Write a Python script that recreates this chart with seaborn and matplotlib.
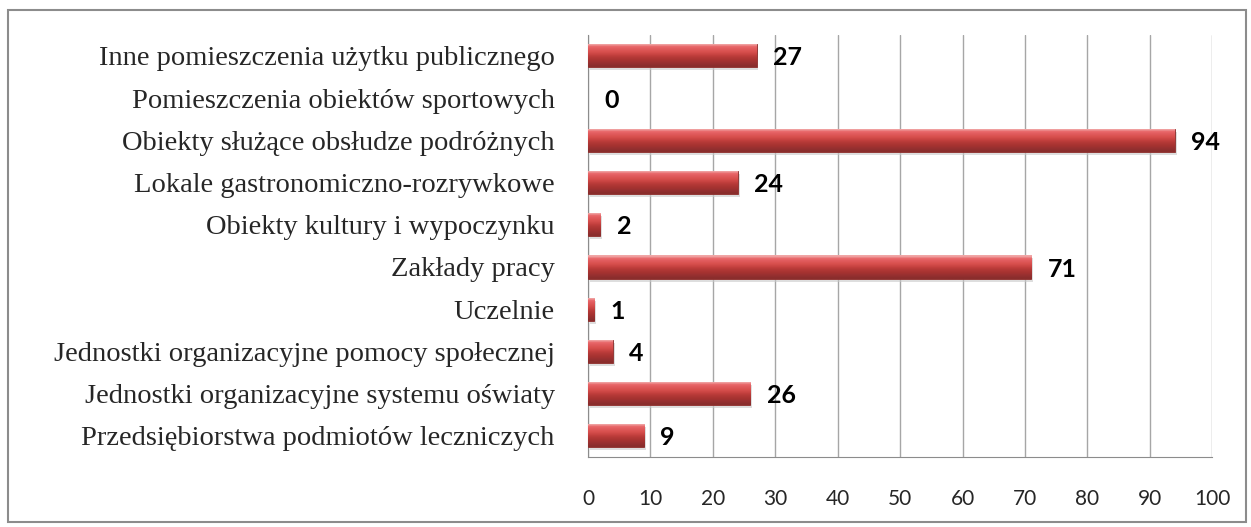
import matplotlib.pyplot as plt
import matplotlib.patches as mpatches
import numpy as np
import pandas as pd
import seaborn as sns

categories = [
    "Inne pomieszczenia użytku publicznego",
    "Pomieszczenia obiektów sportowych",
    "Obiekty służące obsłudze podróżnych",
    "Lokale gastronomiczno-rozrywkowe",
    "Obiekty kultury i wypoczynku",
    "Zakłady pracy",
    "Uczelnie",
    "Jednostki organizacyjne pomocy społecznej",
    "Jednostki organizacyjne systemu oświaty",
    "Przedsiębiorstwa podmiotów leczniczych",
]
values = [27, 0, 94, 24, 2, 71, 1, 4, 26, 9]
x_ticks = [0, 10, 20, 30, 40, 50, 60, 70, 80, 90, 100]

df = pd.DataFrame({"kategoria": categories, "liczba": values})

sns.set_style("white")

fig = plt.figure(figsize=(12.51, 5.27), dpi=100)
ax = fig.add_axes([0.470, 0.133, 0.499, 0.801])

sns.barplot(data=df, y="kategoria", x="liczba", orient="h", color="#c0504d",
            width=0.55, ax=ax, zorder=3)

# cylinder-like shading, listed from visual top to bottom
stripes = ["#f0a6a6", "#e8686a", "#e05a5c", "#d9514f", "#cc4644",
           "#bb3c3a", "#ae3634", "#a33230", "#963030", "#8a2d2c"]
img = np.array([[list(int(c[i:i + 2], 16) / 255 for i in (1, 3, 5))] for c in stripes])
img = img[::-1]  # inverted y axis: row 0 lands at the visual bottom

for p in ax.patches:
    x0, y0 = p.get_x(), p.get_y()
    w, h = p.get_width(), p.get_height()
    if w <= 0:
        p.set_visible(False)
        continue
    ax.add_patch(mpatches.Rectangle((x0 + 0.3, y0 + 0.07), w, h, color="#c8c8c8",
                                    alpha=0.6, zorder=2, lw=0))
    im = ax.imshow(img, extent=(x0, x0 + w, y0, y0 + h), aspect="auto",
                   zorder=4, interpolation="bilinear")
    im.set_clip_path(p)
    p.set_edgecolor("#8b2a28")
    p.set_linewidth(0.6)

for i, v in enumerate(values):
    ax.text(v + 2.6, i + 0.05, str(v), va="center", ha="left", fontsize=18,
            fontweight="bold", family="Lato", color="black", zorder=5)

ax.set_xlim(0, 100)
ax.set_ylim(9.5, -0.5)
ax.set_xticks(x_ticks)
ax.set_xticklabels([str(t) for t in x_ticks], family="Lato", fontsize=15)
ax.set_yticks(range(len(categories)))
ax.set_yticklabels(categories, family="Liberation Serif", fontsize=20.5)
ax.set_xlabel("")
ax.set_ylabel("")

ax.grid(axis="x", color="#a6a6a6", lw=1, zorder=0)
ax.set_axisbelow(True)
for s in ["top", "right"]:
    ax.spines[s].set_visible(False)
ax.spines["left"].set_color("#8c8c8c")
ax.spines["bottom"].set_color("#8c8c8c")

ax.set_yticks(np.arange(-0.5, 10, 1), minor=True)
ax.tick_params(axis="y", which="major", length=0, pad=24)
ax.tick_params(axis="y", which="minor", length=8, color="#8c8c8c", direction="out")
ax.tick_params(axis="x", which="major", length=10, color="#8c8c8c", direction="inout", pad=18)

fig.patches.append(mpatches.Rectangle((8 / 1251, 5 / 527), 1238 / 1251, 512 / 527,
                                      transform=fig.transFigure, fill=False,
                                      edgecolor="#8c8c8c", lw=1.5))

plt.savefig("out.png", dpi=100)
